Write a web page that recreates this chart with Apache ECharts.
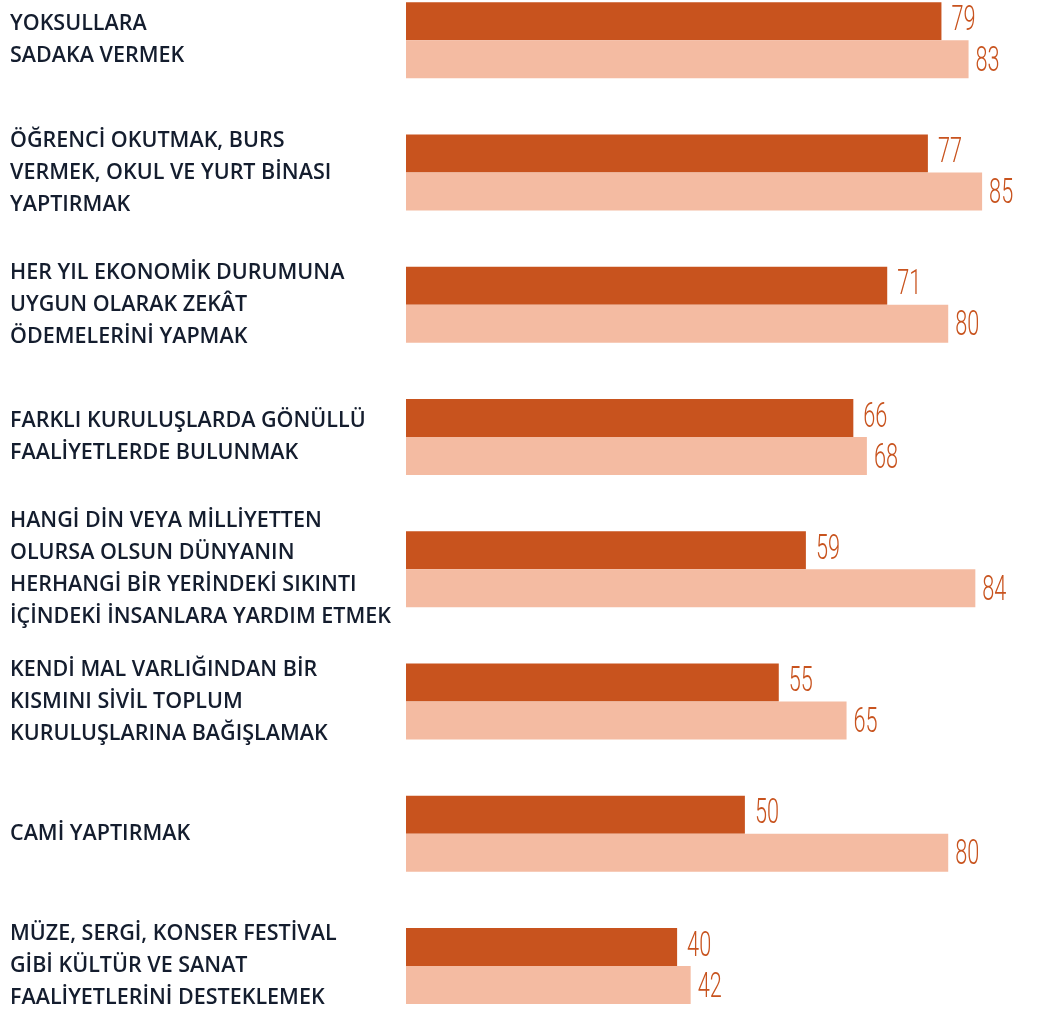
<!DOCTYPE html>
<html>
<head>
<meta charset="utf-8">
<script src="https://cdn.jsdelivr.net/npm/echarts@6/dist/echarts.min.js"></script>
<style>
html,body{margin:0;padding:0;background:#fff;}
#chart{width:1039px;height:1016px;}
</style>
</head>
<body>
<div id="chart"></div>
<script>
var categories = [
  "YOKSULLARA\nSADAKA VERMEK",
  "ÖĞRENCİ OKUTMAK, BURS\nVERMEK, OKUL VE YURT BİNASI\nYAPTIRMAK",
  "HER YIL EKONOMİK DURUMUNA\nUYGUN OLARAK ZEKÂT\nÖDEMELERİNİ YAPMAK",
  "FARKLI KURULUŞLARDA GÖNÜLLÜ\nFAALİYETLERDE BULUNMAK",
  "HANGİ DİN VEYA MİLLİYETTEN\nOLURSA OLSUN DÜNYANIN\nHERHANGİ BİR YERİNDEKİ SIKINTI\nİÇİNDEKİ İNSANLARA YARDIM ETMEK",
  "KENDİ MAL VARLIĞINDAN BİR\nKISMINI SİVİL TOPLUM\nKURULUŞLARINA BAĞIŞLAMAK",
  "CAMİ YAPTIRMAK",
  "MÜZE, SERGİ, KONSER FESTİVAL\nGİBİ KÜLTÜR VE SANAT\nFAALİYETLERİNİ DESTEKLEMEK"
];
var seriesA = [79, 77, 71, 66, 59, 55, 50, 40];
var seriesB = [83, 85, 80, 68, 84, 65, 80, 42];

var LABEL_COLOR = '#C8531E';
function labelRenderer(dy, gap) {
  return function (params, api) {
    var p = api.coord([api.value(0), api.value(1)]);
    return {
      type: 'text',
      x: p[0] + gap,
      y: p[1] + dy,
      scaleX: 0.62,
      style: {
        text: String(api.value(0)),
        fill: LABEL_COLOR,
        font: '300 35px Roboto, "DejaVu Sans", sans-serif',
        align: 'left',
        verticalAlign: 'middle'
      }
    };
  };
}

var chart = echarts.init(document.getElementById('chart'), null, {renderer: 'canvas'});
chart.setOption({
  animation: false,
  backgroundColor: '#ffffff',
  grid: {left: 406, top: -26, height: 1058, width: 610, outerBoundsMode: 'none', containLabel: false},
  xAxis: {type: 'value', min: 0, max: 90, show: false},
  yAxis: {
    type: 'category',
    data: categories,
    inverse: true,
    axisLine: {show: false},
    axisTick: {show: false},
    splitLine: {show: false},
    axisLabel: {
      align: 'left',
      margin: 396,
      color: '#141d2e',
      fontFamily: '"Open Sans", sans-serif',
      fontWeight: 600,
      fontSize: 21.5,
      lineHeight: 32,
      padding: [6, 0, 0, 0]
    }
  },
  series: [
    {type: 'bar', data: seriesA, barWidth: 38, barGap: '0%', itemStyle: {color: '#C8531E'}},
    {type: 'bar', data: seriesB, barWidth: 38, barGap: '0%', itemStyle: {color: '#F4BBA2'}},
    {
      type: 'custom', silent: true,
      data: seriesA.map(function (v, i) { return [v, i]; }),
      encode: {x: 0, y: 1},
      renderItem: labelRenderer(-19, 10)
    },
    {
      type: 'custom', silent: true,
      data: seriesB.map(function (v, i) { return [v, i]; }),
      encode: {x: 0, y: 1},
      renderItem: labelRenderer(22, 7)
    }
  ]
});
</script>
</body>
</html>
